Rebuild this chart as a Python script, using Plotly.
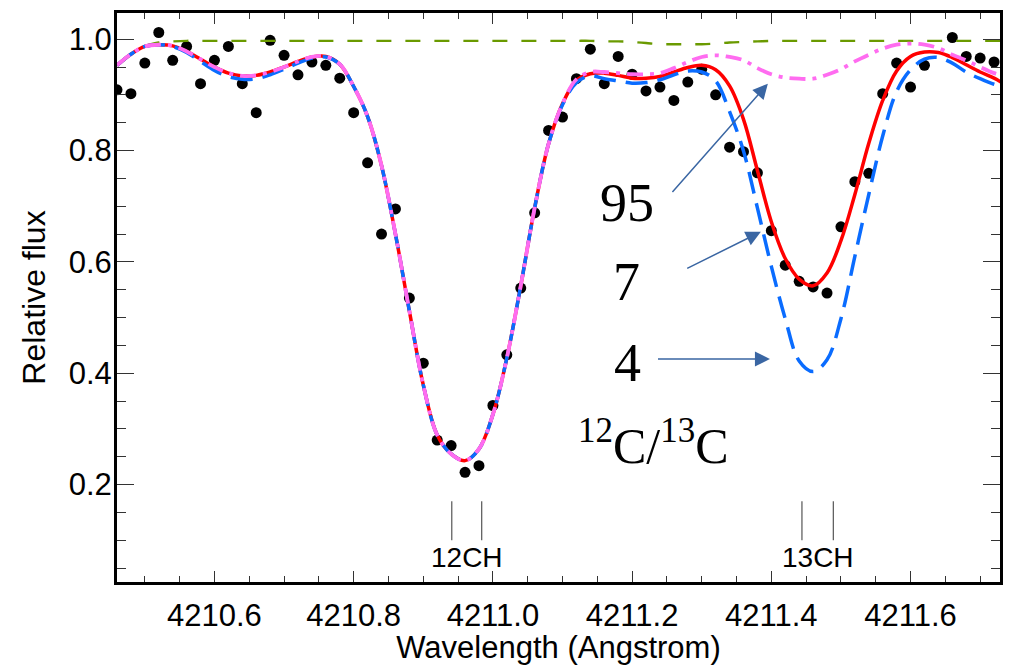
import plotly.graph_objects as go

# ---------------- data ----------------
# observed spectrum (wavelength in Angstrom, relative flux)
obs_wl = [4210.46, 4210.48, 4210.50, 4210.52, 4210.54, 4210.56, 4210.58, 4210.60,
          4210.62, 4210.64, 4210.66, 4210.68, 4210.70, 4210.72, 4210.74, 4210.76,
          4210.78, 4210.80, 4210.82, 4210.84, 4210.86, 4210.88, 4210.90, 4210.92,
          4210.94, 4210.96, 4210.98, 4211.00, 4211.02, 4211.04, 4211.06, 4211.08,
          4211.10, 4211.12, 4211.14, 4211.16, 4211.18, 4211.20, 4211.22, 4211.24,
          4211.26, 4211.28, 4211.30, 4211.32, 4211.34, 4211.36, 4211.38, 4211.40,
          4211.42, 4211.44, 4211.46, 4211.48, 4211.50, 4211.52, 4211.54, 4211.56,
          4211.58, 4211.60, 4211.62, 4211.66, 4211.68, 4211.70, 4211.72]
obs_flux = [0.909, 0.902, 0.957, 1.012, 0.962, 0.987, 0.920, 0.962,
            0.987, 0.920, 0.868, 0.998, 0.971, 0.936, 0.959, 0.953,
            0.930, 0.868, 0.778, 0.650, 0.695, 0.535, 0.418, 0.280,
            0.270, 0.222, 0.234, 0.342, 0.433, 0.553, 0.688, 0.836,
            0.860, 0.929, 0.982, 0.920, 0.969, 0.937, 0.907, 0.914,
            0.890, 0.923, 0.946, 0.900, 0.806, 0.798, 0.760, 0.656,
            0.594, 0.565, 0.555, 0.544, 0.663, 0.744, 0.759, 0.902,
            0.957, 0.914, 0.953, 1.003, 0.969, 0.966, 0.959]

# synthetic spectra, sampled on a common wavelength grid
model_wl = [4210.46, 4210.48, 4210.50, 4210.52, 4210.54, 4210.56, 4210.58, 4210.60,
            4210.62, 4210.64, 4210.66, 4210.68, 4210.70, 4210.72, 4210.74, 4210.76,
            4210.78, 4210.80, 4210.82, 4210.84, 4210.86, 4210.88, 4210.90, 4210.92,
            4210.94, 4210.96, 4210.98, 4211.00, 4211.02, 4211.04, 4211.06, 4211.08,
            4211.10, 4211.12, 4211.14, 4211.16, 4211.18, 4211.20, 4211.22, 4211.24,
            4211.26, 4211.28, 4211.30, 4211.32, 4211.34, 4211.36, 4211.38, 4211.40,
            4211.42, 4211.44, 4211.46, 4211.48, 4211.50, 4211.52, 4211.54, 4211.56,
            4211.58, 4211.60, 4211.62, 4211.64, 4211.66, 4211.68, 4211.70, 4211.72,
            4211.73]

# 12C/13C = 7 (best fit, red solid)
flux_r7 = [0.953, 0.973, 0.987, 0.990, 0.988, 0.978, 0.964, 0.950,
           0.939, 0.934, 0.935, 0.941, 0.950, 0.960, 0.968, 0.969,
           0.955, 0.915, 0.861, 0.773, 0.650, 0.512, 0.379, 0.289,
           0.255, 0.243, 0.264, 0.326, 0.427, 0.557, 0.697, 0.812,
           0.884, 0.926, 0.938, 0.939, 0.935, 0.930, 0.930, 0.933,
           0.941, 0.949, 0.953, 0.945, 0.916, 0.856, 0.764, 0.672,
           0.606, 0.569, 0.557, 0.580, 0.638, 0.721, 0.813, 0.890,
           0.943, 0.969, 0.977, 0.976, 0.967, 0.954, 0.941, 0.930,
           0.923]

# 12C/13C = 4 (blue long dash)
flux_r4 = [0.953, 0.973, 0.987, 0.990, 0.987, 0.976, 0.960, 0.944,
           0.933, 0.928, 0.929, 0.936, 0.946, 0.957, 0.966, 0.968,
           0.955, 0.915, 0.861, 0.773, 0.650, 0.512, 0.379, 0.289,
           0.255, 0.243, 0.264, 0.326, 0.427, 0.557, 0.697, 0.812,
           0.882, 0.922, 0.934, 0.929, 0.925, 0.921, 0.922, 0.927,
           0.936, 0.943, 0.941, 0.925, 0.870, 0.799, 0.697, 0.592,
           0.498, 0.422, 0.403, 0.424, 0.498, 0.610, 0.721, 0.826,
           0.906, 0.945, 0.964, 0.967, 0.957, 0.941, 0.929, 0.919,
           0.916]

# 12C/13C = 95 (magenta dash-dot)
flux_r95 = [0.953, 0.973, 0.987, 0.990, 0.988, 0.978, 0.964, 0.950,
            0.939, 0.934, 0.935, 0.941, 0.950, 0.960, 0.968, 0.969,
            0.955, 0.915, 0.861, 0.773, 0.650, 0.512, 0.379, 0.289,
            0.255, 0.243, 0.264, 0.326, 0.427, 0.557, 0.697, 0.812,
            0.884, 0.928, 0.941, 0.941, 0.939, 0.937, 0.937, 0.939,
            0.948, 0.959, 0.968, 0.971, 0.968, 0.962, 0.948, 0.937,
            0.931, 0.929, 0.929, 0.936, 0.946, 0.960, 0.972, 0.983,
            0.990, 0.992, 0.990, 0.984, 0.972, 0.962, 0.950, 0.939,
            0.935]

# spectrum without CH (green dashed)
cont_wl = model_wl[2:]
cont_flux = [0.988, 0.994, 0.996, 0.997, 0.997, 0.997, 0.997, 0.997,
             0.997, 0.997, 0.997, 0.997, 0.997, 0.997, 0.997, 0.997,
             0.997, 0.997, 0.997, 0.997, 0.997, 0.997, 0.997, 0.997,
             0.997, 0.997, 0.997, 0.997, 0.997, 0.997, 0.997, 0.997,
             0.997, 0.996, 0.996, 0.995, 0.993, 0.991, 0.991, 0.991,
             0.991, 0.992, 0.994, 0.995, 0.996, 0.997, 0.997, 0.997,
             0.997, 0.997, 0.997, 0.997, 0.997, 0.997, 0.997, 0.997,
             0.997, 0.997, 0.997, 0.997, 0.997, 0.997, 0.997]

# line identifications
ch12_wl = [4210.941, 4210.984]
ch13_wl = [4211.444, 4211.489]
id_top, id_bottom = 0.170, 0.100
id_label_y = 0.069
id_labels = ["12CH", "13CH"]

# ratio annotations: label, label position, arrow tail, arrow head
ratio_labels = ["95", "7", "4"]
label_pos = [(4211.192, 0.705), (4211.192, 0.564), (4211.194, 0.418)]
arrow_tail = [(4211.256, 0.723), (4211.277, 0.587), (4211.235, 0.4255)]
arrow_head = [(4211.395, 0.920), (4211.385, 0.654), (4211.398, 0.4255)]

x_range = [4210.46, 4211.7285]
y_range = [0.025, 1.047]

# ---------------- figure ----------------
SANS = "Liberation Sans, Arial, Helvetica, sans-serif"
SERIF = "Liberation Serif, Times New Roman, serif"

fig = go.Figure()

fig.add_trace(go.Scatter(x=obs_wl, y=obs_flux, mode="markers",
                         marker=dict(color="black", size=11), showlegend=False))

fig.add_trace(go.Scatter(x=cont_wl, y=cont_flux, mode="lines", line_shape="spline",
                         line=dict(color="#6a9a00", width=2.4, dash="15px,14px"),
                         showlegend=False))
fig.add_trace(go.Scatter(x=model_wl, y=flux_r7, mode="lines", line_shape="spline",
                         line=dict(color="#ff0000", width=3.5), showlegend=False))
fig.add_trace(go.Scatter(x=model_wl, y=flux_r4, mode="lines", line_shape="spline",
                         line=dict(color="#0a6cff", width=3.5, dash="22px,10px"),
                         showlegend=False))
fig.add_trace(go.Scatter(x=model_wl, y=flux_r95, mode="lines", line_shape="spline",
                         line=dict(color="#ff6cf0", width=3.8, dash="16px,7px,4px,7px"),
                         showlegend=False))

# line-ID ticks
for wls in (ch12_wl, ch13_wl):
    xs, ys = [], []
    for w in wls:
        xs += [w, w, None]
        ys += [id_bottom, id_top, None]
    fig.add_trace(go.Scatter(x=xs, y=ys, mode="lines",
                             line=dict(color="#333333", width=1), showlegend=False))

annotations = []
for wls, lab in zip((ch12_wl, ch13_wl), id_labels):
    annotations.append(dict(x=sum(wls) / 2, y=id_label_y, xref="x", yref="y",
                            text=lab, showarrow=False,
                            font=dict(family=SANS, size=28, color="black")))

for lab, (lx, ly) in zip(ratio_labels, label_pos):
    annotations.append(dict(x=lx, y=ly, xref="x", yref="y", text=lab, showarrow=False,
                            font=dict(family=SERIF, size=54, color="black")))

for (tx, ty), (hx, hy) in zip(arrow_tail, arrow_head):
    annotations.append(dict(x=hx, y=hy, xref="x", yref="y", ax=tx, ay=ty,
                            axref="x", ayref="y", text="", showarrow=True,
                            arrowhead=2, arrowsize=2.0, arrowwidth=1.5,
                            arrowcolor="#3a66a3", standoff=0, startstandoff=0))

annotations.append(dict(x=4211.23, y=0.275, xref="x", yref="y",
                        text="<sup>12</sup>C/<sup>13</sup>C", showarrow=False,
                        font=dict(family=SERIF, size=50, color="black")))

fig.update_layout(
    width=1013, height=665,
    margin=dict(l=117, r=10, t=10, b=78),
    paper_bgcolor="white", plot_bgcolor="white",
    annotations=annotations,
    showlegend=False,
)

fig.update_xaxes(
    range=x_range, showgrid=False, zeroline=False,
    showline=True, linewidth=3, linecolor="black", mirror="ticks",
    ticks="inside", ticklen=11, tickwidth=1.4, tickcolor="#333333",
    tick0=4210.6, dtick=0.2, tickformat=".1f",
    minor=dict(dtick=0.05, ticks="inside", ticklen=6, tickwidth=1.4, tickcolor="#333333"),
    tickfont=dict(family=SANS, size=31, color="black"),
    ticklabelstandoff=4,
    title=dict(text="Wavelength (Angstrom)", font=dict(family=SANS, size=31, color="black"),
               standoff=0),
)
fig.update_yaxes(
    range=y_range, showgrid=False, zeroline=False,
    showline=True, linewidth=3, linecolor="black", mirror="ticks",
    ticks="inside", ticklen=17, tickwidth=1.4, tickcolor="#333333",
    tick0=0, dtick=0.2, tickformat=".1f",
    minor=dict(dtick=0.05, ticks="inside", ticklen=9, tickwidth=1.4, tickcolor="#333333"),
    tickfont=dict(family=SANS, size=31, color="black"),
    ticklabelstandoff=-4,
    title=dict(text="Relative flux", font=dict(family=SANS, size=32, color="black"),
               standoff=14),
)

fig.write_html("out.html")
